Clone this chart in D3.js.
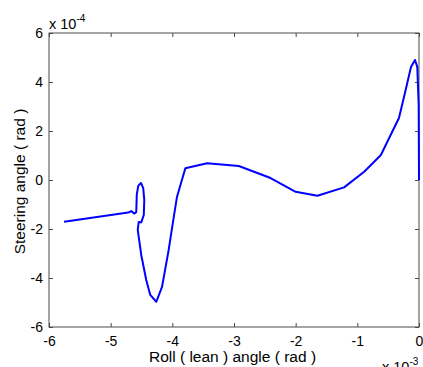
<!DOCTYPE html>
<html>
<head>
<meta charset="utf-8">
<script src="https://cdn.jsdelivr.net/npm/d3@7"></script>
<style>
  body { margin: 0; background: #fff; }
  text { font-family: Arial, "Liberation Sans", sans-serif; }
</style>
</head>
<body>
<div id="plot"></div>
<script>
// roll angle (x 1e-3 rad) and steering angle (x 1e-4 rad)
var roll = [-5.756, -4.715, -4.667, -4.618, -4.585, -4.577, -4.553, -4.509, -4.472, -4.455,
    -4.463, -4.504, -4.545, -4.561, -4.504, -4.423, -4.358, -4.260, -4.167, -4.060,
    -3.984, -3.924, -3.789, -3.436, -2.922, -2.407, -2.000, -1.647, -1.215, -0.889,
    -0.618, -0.325, -0.228, -0.130, -0.065, -0.028, -0.005, 0.0];
var steer = [-1.70, -1.33, -1.27, -1.37, -1.31, -0.61, -0.24, -0.12, -0.33, -0.82,
    -1.43, -1.73, -1.71, -2.04, -3.06, -4.08, -4.69, -4.97, -4.36, -2.86,
    -1.63, -0.68, 0.48, 0.68, 0.57, 0.08, -0.48, -0.64, -0.30, 0.34,
    1.02, 2.53, 3.55, 4.61, 4.90, 4.62, 3.06, 0.0];

var xTicks = [-6, -5, -4, -3, -2, -1, 0];
var yTicks = [-6, -4, -2, 0, 2, 4, 6];

var width = 423, height = 367;
var margin = { top: 33, right: 4, bottom: 40, left: 49 };
var w = width - margin.left - margin.right,
    h = height - margin.top - margin.bottom;

var svg = d3.select("#plot")
    .append("svg")
    .attr("width", width)
    .attr("height", height);

var g = svg.append("g")
    .attr("transform", "translate(" + margin.left + "," + margin.top + ")");

var x = d3.scaleLinear().domain([-6, 0]).range([0, w]);
var y = d3.scaleLinear().domain([-6, 6]).range([h, 0]);

var axisColor = "#4a4a4a";
var plain = function (d) { return String(d); }; // hyphen minus like matlab

////////////////// axes, matlab style (ticks inside, box) //////////////////
function styleAxis(sel, showText) {
    sel.select(".domain").remove();
    sel.selectAll(".tick line").attr("stroke", axisColor);
    sel.selectAll(".tick text")
        .attr("fill", showText ? "#000" : "none")
        .style("font-size", "14px");
}

g.append("g")
    .attr("transform", "translate(0," + h + ")")
    .call(d3.axisBottom(x).tickValues(xTicks).tickSizeInner(-4).tickPadding(9).tickFormat(plain))
    .call(styleAxis, true);

g.append("g")
    .call(d3.axisTop(x).tickValues(xTicks).tickSizeInner(-4).tickFormat(""))
    .call(styleAxis, false);

g.append("g")
    .call(d3.axisLeft(y).tickValues(yTicks).tickSizeInner(-4).tickPadding(6).tickFormat(plain))
    .call(styleAxis, true);

g.append("g")
    .attr("transform", "translate(" + w + ",0)")
    .call(d3.axisRight(y).tickValues(yTicks).tickSizeInner(-4).tickFormat(""))
    .call(styleAxis, false);

g.append("rect")
    .attr("x", 0).attr("y", 0)
    .attr("width", w).attr("height", h)
    .attr("fill", "none")
    .attr("stroke", axisColor)
    .attr("stroke-width", 1);

////////////////// curve //////////////////
var pts = roll.map(function (d, i) { return [d, steer[i]]; });

var line = d3.line()
    .x(function (d) { return x(d[0]); })
    .y(function (d) { return y(d[1]); });

g.append("path")
    .datum(pts)
    .attr("d", line)
    .attr("fill", "none")
    .attr("stroke", "#0000ff")
    .attr("stroke-width", 2)
    .attr("stroke-linejoin", "round");

////////////////// exponent labels //////////////////
var ex = svg.append("text")
    .attr("x", margin.left)
    .attr("y", 29)
    .style("font-size", "14.5px");
ex.append("tspan").text("x 10");
ex.append("tspan").attr("dy", -7).style("font-size", "10px").text("-4");

var ex2 = svg.append("text")
    .attr("x", 382)
    .attr("y", 372)
    .style("font-size", "14.5px");
ex2.append("tspan").text("x 10");
ex2.append("tspan").attr("dy", -7).style("font-size", "10px").text("-3");

////////////////// axis labels //////////////////
svg.append("text")
    .attr("x", 232.5)
    .attr("y", 362)
    .attr("text-anchor", "middle")
    .style("font-size", "15.5px")
    .text("Roll ( lean ) angle ( rad )");

svg.append("text")
    .attr("transform", "translate(25,181.5) rotate(-90)")
    .attr("text-anchor", "middle")
    .style("font-size", "15.5px")
    .text("Steering angle ( rad )");
</script>
</body>
</html>
